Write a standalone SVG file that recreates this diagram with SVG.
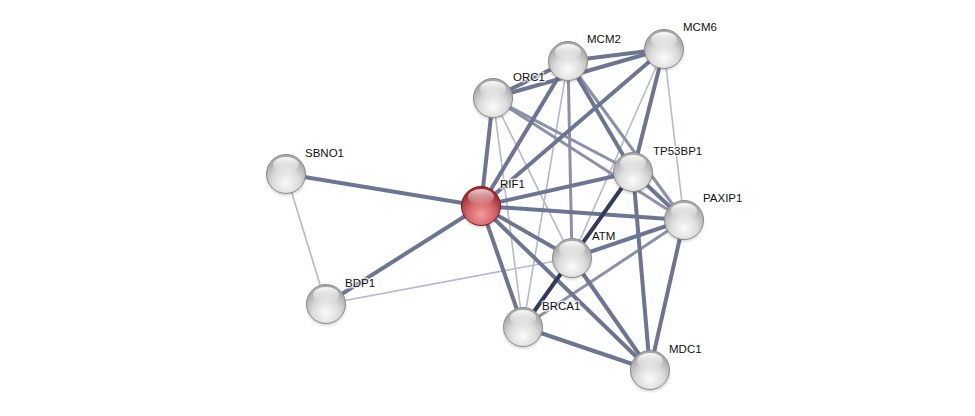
<svg xmlns="http://www.w3.org/2000/svg" width="975" height="416" viewBox="0 0 975 416">
<style>
  .e{stroke-linecap:butt;fill:none}
  .t{stroke:#6d7590;stroke-width:4}
  .d{stroke:#323b5a;stroke-width:4}
  .m{stroke:#8b91a8;stroke-width:3}
  .l{stroke:#b5b9ca;stroke-width:1.6}
  .lab{font-family:"Liberation Sans",Arial,sans-serif;font-size:11.5px;fill:#111;stroke:#fff;stroke-width:3;stroke-opacity:0.7;paint-order:stroke;stroke-linejoin:round}
</style>
<defs>
  <radialGradient id="gg" cx="0.5" cy="0.72" r="0.62">
    <stop offset="0" stop-color="#fbfbfb"/>
    <stop offset="0.55" stop-color="#dcdcdc"/>
    <stop offset="1" stop-color="#a9a9a9"/>
  </radialGradient>
  <radialGradient id="rg" cx="0.5" cy="0.72" r="0.62">
    <stop offset="0" stop-color="#f59a9c"/>
    <stop offset="0.55" stop-color="#d3676b"/>
    <stop offset="1" stop-color="#9c2c31"/>
  </radialGradient>
  <linearGradient id="hl" x1="0" y1="0" x2="0" y2="1">
    <stop offset="0" stop-color="#fff" stop-opacity="0.95"/>
    <stop offset="1" stop-color="#fff" stop-opacity="0"/>
  </linearGradient>
  <radialGradient id="sh" cx="0.5" cy="0.5" r="0.5">
    <stop offset="0.6" stop-color="#000" stop-opacity="0.35"/>
    <stop offset="1" stop-color="#000" stop-opacity="0"/>
  </radialGradient>
  <g id="ball">
    <ellipse cx="0" cy="3" rx="21.5" ry="20.5" fill="url(#sh)"/>
    <circle r="19.5" fill="url(#gg)" stroke="#8c8c8c" stroke-width="1"/>
    <ellipse cx="0" cy="-9" rx="13" ry="8" fill="url(#hl)"/>
  </g>
  <g id="rball">
    <ellipse cx="0" cy="3" rx="21.5" ry="20.5" fill="url(#sh)"/>
    <circle r="19.5" fill="url(#rg)" stroke="#7e1f24" stroke-width="1"/>
    <ellipse cx="0" cy="-9" rx="13" ry="8" fill="url(#hl)" opacity="0.8"/>
  </g>
</defs>
<rect width="975" height="416" fill="#fff"/>
<g id="edges">
  <line class="e l" x1="286" y1="174" x2="326" y2="304"/>
  <line class="e l" x1="326" y1="304" x2="572" y2="258"/>
  <line class="e l" x1="493" y1="98" x2="572" y2="258"/>
  <line class="e l" x1="493" y1="98" x2="523" y2="327"/>
  <line class="e l" x1="568" y1="61" x2="523" y2="327"/>
  <line class="e l" x1="664" y1="49" x2="572" y2="258"/>
  <line class="e l" x1="664" y1="49" x2="684" y2="220"/>
  <line class="e m" x1="493" y1="98" x2="633" y2="172"/>
  <line class="e m" x1="493" y1="98" x2="684" y2="220"/>
  <line class="e m" x1="684" y1="220" x2="523" y2="327"/>
  <line class="e m" x1="568" y1="61" x2="684" y2="220"/>
  <line class="e m" x1="568" y1="61" x2="572" y2="258"/>
  <line class="e t" x1="481" y1="206" x2="286" y2="174"/>
  <line class="e t" x1="481" y1="206" x2="326" y2="304"/>
  <line class="e t" x1="481" y1="206" x2="493" y2="98"/>
  <line class="e t" x1="481" y1="206" x2="568" y2="61"/>
  <line class="e t" x1="481" y1="206" x2="664" y2="49"/>
  <line class="e t" x1="481" y1="206" x2="633" y2="172"/>
  <line class="e t" x1="481" y1="206" x2="684" y2="220"/>
  <line class="e t" x1="481" y1="206" x2="572" y2="258"/>
  <line class="e t" x1="481" y1="206" x2="523" y2="327"/>
  <line class="e t" x1="481" y1="206" x2="650" y2="370"/>
  <line class="e t" x1="568" y1="61" x2="664" y2="49"/>
  <line class="e t" x1="493" y1="98" x2="568" y2="61"/>
  <line class="e t" x1="493" y1="98" x2="664" y2="49"/>
  <line class="e t" x1="568" y1="61" x2="633" y2="172"/>
  <line class="e t" x1="664" y1="49" x2="633" y2="172"/>
  <line class="e t" x1="633" y1="172" x2="684" y2="220"/>
  <line class="e t" x1="633" y1="172" x2="650" y2="370"/>
  <line class="e t" x1="684" y1="220" x2="572" y2="258"/>
  <line class="e t" x1="684" y1="220" x2="650" y2="370"/>
  <line class="e t" x1="572" y1="258" x2="650" y2="370"/>
  <line class="e t" x1="523" y1="327" x2="650" y2="370"/>
  <line class="e d" x1="633" y1="172" x2="572" y2="258"/>
  <line class="e d" x1="572" y1="258" x2="523" y2="327"/>
</g>
<g id="SBNO1"><use href="#ball" x="286" y="174"/><text class="lab" x="305" y="157">SBNO1</text></g>
<g id="BDP1"><use href="#ball" x="326" y="304"/><text class="lab" x="345" y="287">BDP1</text></g>
<g id="ORC1"><use href="#ball" x="493" y="98"/><text class="lab" x="513" y="81">ORC1</text></g>
<g id="MCM2"><use href="#ball" x="568" y="61"/><text class="lab" x="587" y="43">MCM2</text></g>
<g id="MCM6"><use href="#ball" x="664" y="49"/><text class="lab" x="683" y="31">MCM6</text></g>
<g id="TP53BP1"><use href="#ball" x="633" y="172"/><text class="lab" x="653" y="155">TP53BP1</text></g>
<g id="PAXIP1"><use href="#ball" x="684" y="220"/><text class="lab" x="703" y="202">PAXIP1</text></g>
<g id="ATM"><use href="#ball" x="572" y="258"/><text class="lab" x="592" y="240">ATM</text></g>
<g id="BRCA1"><use href="#ball" x="523" y="327"/><text class="lab" x="542" y="310">BRCA1</text></g>
<g id="MDC1"><use href="#ball" x="650" y="370"/><text class="lab" x="669" y="353">MDC1</text></g>
<g id="RIF1"><use href="#rball" x="481" y="206"/><text class="lab" x="500" y="188">RIF1</text></g>
</svg>
